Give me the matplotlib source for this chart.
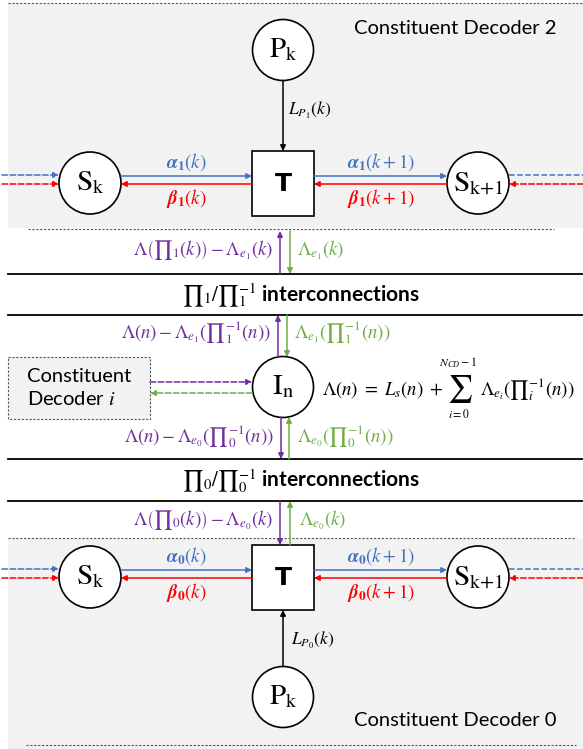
import matplotlib.pyplot as plt
from matplotlib.patches import Circle, Rectangle

plt.rcParams['font.family'] = ['Lato', 'DejaVu Sans']
plt.rcParams['mathtext.fontset'] = 'stix'

BLUE = '#4472C4'
RED = '#FF0000'
PURPLE = '#7030A0'
GREEN = '#70AD47'
GRAY = '#F2F2F2'

# text content of the diagram
decoder_titles = ['Constituent Decoder 2', 'Constituent Decoder 0']
side_box_text = 'Constituent\nDecoder $i$'
state_labels = [r'$\mathrm{S_k}$', r'$\mathrm{S}_{\mathrm{k}{+}\mathrm{1}}$']
parity_label = r'$\mathrm{P_k}$'
inter_label = r'$\mathrm{I_n}$'
trellis_label = 'T'
fwd_labels = [[r'$\boldsymbol{\alpha}_{\mathbf{1}}(k)$', r'$\boldsymbol{\alpha}_{\mathbf{1}}(k+1)$'],
              [r'$\boldsymbol{\alpha}_{\mathbf{0}}(k)$', r'$\boldsymbol{\alpha}_{\mathbf{0}}(k+1)$']]
bwd_labels = [[r'$\boldsymbol{\beta}_{\mathbf{1}}(k)$', r'$\boldsymbol{\beta}_{\mathbf{1}}(k+1)$'],
              [r'$\boldsymbol{\beta}_{\mathbf{0}}(k)$', r'$\boldsymbol{\beta}_{\mathbf{0}}(k+1)$']]
parity_llr = [r'$L_{P_1}(k)$', r'$L_{P_0}(k)$']
band_labels = [r'${\prod}_1/{\prod}_1^{-1}$ interconnections',
               r'${\prod}_0/{\prod}_0^{-1}$ interconnections']
trellis_out = [r'$\Lambda\left({\prod}_1(k)\right)-\Lambda_{e_1}(k)$',
               r'$\Lambda\left({\prod}_0(k)\right)-\Lambda_{e_0}(k)$']
trellis_in = [r'$\Lambda_{e_1}(k)$', r'$\Lambda_{e_0}(k)$']
node_out = [r'$\Lambda(n)-\Lambda_{e_1}({\prod}_1^{-1}(n))$',
            r'$\Lambda(n)-\Lambda_{e_0}({\prod}_0^{-1}(n))$']
node_in = [r'$\Lambda_{e_1}({\prod}_1^{-1}(n))$', r'$\Lambda_{e_0}({\prod}_0^{-1}(n))$']
eq_left = r'$\Lambda(n)\ =\ L_s(n)\ +$'
eq_sum = r'$\sum$'
eq_upper = r'$N_{CD}-1$'
eq_lower = r'$i=0$'
eq_right = r'$\Lambda_{e_i}({\prod}_i^{-1}(n))$'

fig = plt.figure(figsize=(5.83, 7.49), dpi=100)
ax = fig.add_axes([0, 0, 1, 1])
ax.set_xlim(0, 583)
ax.set_ylim(749, 0)
ax.axis('off')

LABEL_FS = 13.5


def arrow(x0, y0, x1, y1, color, ls='-'):
    ax.annotate('', xy=(x1, y1), xytext=(x0, y0),
                arrowprops=dict(arrowstyle='-|>', color=color, lw=1.1, linestyle=ls,
                                shrinkA=0, shrinkB=0, mutation_scale=8))


def circle(x, y, r, label, fs=21):
    ax.add_patch(Circle((x, y), r, fc='white', ec='black', lw=1.2, zorder=3))
    ax.text(x, y, label, ha='center', va='center', fontsize=fs, zorder=4)


def decoder(idx, yc, py, title_y, top_dash, bot_dash, fill):
    ax.add_patch(Rectangle((fill[0], fill[1]), 583 - fill[0], fill[2] - fill[1],
                           fc=GRAY, ec='none', zorder=0))
    ax.plot(top_dash[:2], [top_dash[2]] * 2, color='#555555', ls=(0, (2, 1.5)), lw=0.8)
    ax.plot(bot_dash[:2], [bot_dash[2]] * 2, color='#555555', ls=(0, (2, 1.5)), lw=0.8)
    ax.text(557, title_y, decoder_titles[idx], ha='right', va='center', fontsize=14.5)
    # trellis box
    ax.add_patch(Rectangle((252, yc - 32), 62, 65, fc='white', ec='black', lw=1.2, zorder=3))
    ax.text(283, yc + 1, trellis_label, ha='center', va='center', fontsize=18,
            fontweight='bold', family='DejaVu Sans', zorder=4)
    circle(90, yc, 31, state_labels[0])
    circle(478, yc, 31, state_labels[1])
    circle(283, py, 30.5, parity_label)
    yb, yr = yc - 7, yc + 1
    arrow(121, yb, 252, yb, BLUE)
    arrow(252, yr, 121, yr, RED)
    arrow(314, yb, 447, yb, BLUE)
    arrow(447, yr, 314, yr, RED)
    arrow(2, yb - 1, 59, yb - 1, BLUE, '--')
    arrow(2, yr, 59, yr, RED, '--')
    ax.plot([509, 583], [yb - 1, yb - 1], color=BLUE, lw=1.1, ls='--')
    arrow(583, yr, 509, yr, RED, '--')
    ax.text(186, yb - 14, fwd_labels[idx][0], color=BLUE, ha='center', va='center', fontsize=LABEL_FS)
    ax.text(186, yr + 14, bwd_labels[idx][0], color=RED, ha='center', va='center', fontsize=LABEL_FS)
    ax.text(381, yb - 14, fwd_labels[idx][1], color=BLUE, ha='center', va='center', fontsize=LABEL_FS)
    ax.text(381, yr + 14, bwd_labels[idx][1], color=RED, ha='center', va='center', fontsize=LABEL_FS)
    # parity input
    if py < yc:
        arrow(283, py + 30.5, 283, yc - 32, 'black')
        ax.text(288, 110, parity_llr[idx], ha='left', va='center', fontsize=12.5)
    else:
        arrow(283, py - 30.5, 283, yc + 33, 'black')
        ax.text(291, 640, parity_llr[idx], ha='left', va='center', fontsize=12.5)


decoder(0, 183, 50, 29, (8, 583, 3), (28, 554, 229), (8, 3, 228))
decoder(1, 577, 697, 720, (8, 576, 538), (26, 576, 745), (8, 539, 749))

# interleaver bands
for y0, y1 in [(274, 315), (459, 501)]:
    ax.plot([8, 583], [y0, y0], color='black', lw=1.3)
    ax.plot([8, 583], [y1, y1], color='black', lw=1.3)
band_y = [295, 481]
for i in range(2):
    ax.text(301, band_y[i], band_labels[i], ha='center', va='center', fontsize=15,
            fontweight='bold')

# trellis <-> interleaver links
arrow(280, 274, 280, 231, PURPLE)
arrow(290, 231, 290, 274, GREEN)
ax.text(273, 250, trellis_out[0], color=PURPLE, ha='right', va='center', fontsize=LABEL_FS)
ax.text(297, 250, trellis_in[0], color=GREEN, ha='left', va='center', fontsize=LABEL_FS)
arrow(280, 501, 280, 545, PURPLE)
arrow(290, 545, 290, 501, GREEN)
ax.text(273, 520, trellis_out[1], color=PURPLE, ha='right', va='center', fontsize=LABEL_FS)
ax.text(299, 520, trellis_in[1], color=GREEN, ha='left', va='center', fontsize=LABEL_FS)

# information node
circle(283, 387, 30.5, inter_label)
arrow(278, 357, 278, 315, PURPLE)
arrow(287, 315, 287, 357, GREEN)
ax.text(271, 333, node_out[0], color=PURPLE, ha='right', va='center', fontsize=LABEL_FS)
ax.text(294, 333, node_in[0], color=GREEN, ha='left', va='center', fontsize=LABEL_FS)
arrow(281, 417, 281, 459, PURPLE)
arrow(289, 459, 289, 417, GREEN)
ax.text(274, 437, node_out[1], color=PURPLE, ha='right', va='center', fontsize=LABEL_FS)
ax.text(297, 437, node_in[1], color=GREEN, ha='left', va='center', fontsize=LABEL_FS)

# combined LLR equation
ax.text(322, 390, eq_left, ha='left', va='center', fontsize=LABEL_FS)
ax.text(460, 389, eq_sum, ha='center', va='center', fontsize=20)
ax.text(458, 363, eq_upper, ha='center', va='center', fontsize=8.5)
ax.text(459, 414, eq_lower, ha='center', va='center', fontsize=8.5)
ax.text(480, 390, eq_right, ha='left', va='center', fontsize=LABEL_FS)

# other constituent decoder
ax.add_patch(Rectangle((8, 357), 142, 62, fc=GRAY, ec='#555555', lw=0.8,
                       ls=(0, (2, 1.5)), zorder=1))
ax.text(27, 388, side_box_text, ha='left', va='center', fontsize=14.5, linespacing=1.3)
arrow(150, 382, 252, 382, PURPLE, '--')
arrow(252, 393, 150, 393, GREEN, '--')

fig.savefig('out.png', dpi=100)
